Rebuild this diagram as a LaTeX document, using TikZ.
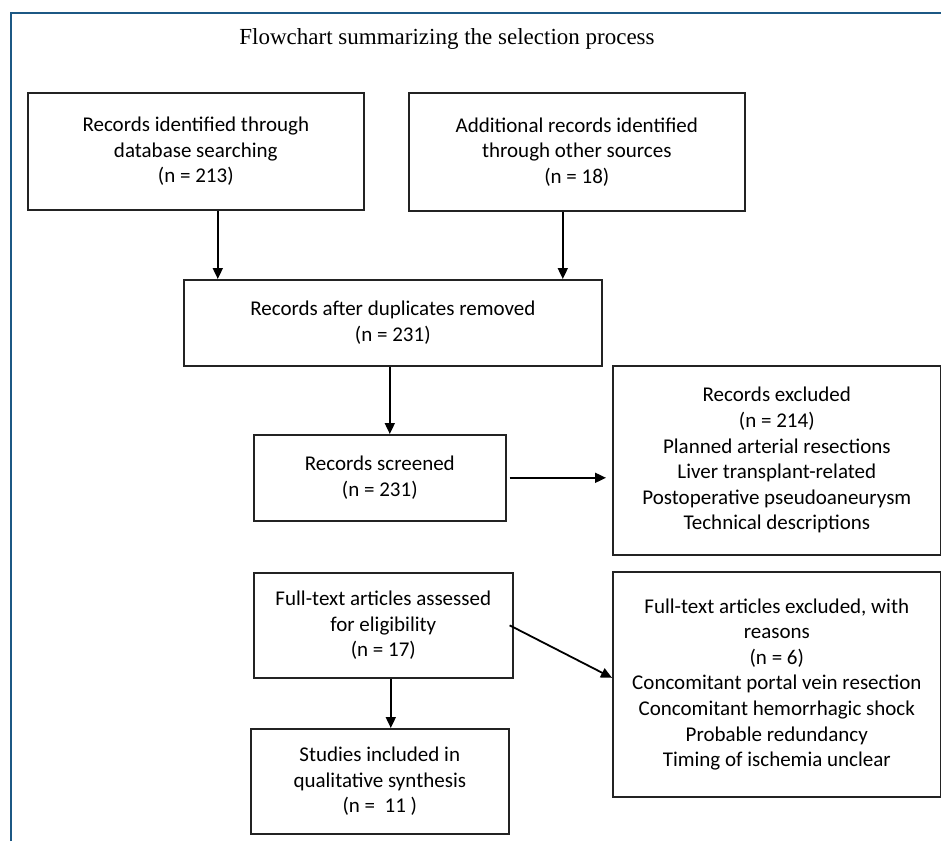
\documentclass[tikz,border=0pt]{standalone}
\usepackage{fontspec}
\setmainfont{Carlito}
\newfontfamily\titlefont{Liberation Serif}
\usetikzlibrary{arrows.meta,calc}
\definecolor{frameblue}{RGB}{28,88,132}
\definecolor{boxline}{RGB}{35,35,35}
\begin{document}
\begin{tikzpicture}[x=1pt,y=1pt,
  flowbox/.style={draw=boxline, line width=1.6pt, align=center, inner sep=0pt,
    anchor=north west, font=\fontsize{21}{25.6}\selectfont},
  arr/.style={line width=1.8pt, draw=black, -{Triangle[length=11pt,width=10pt]}}]
\useasboundingbox (0,0) rectangle (941,-841);
% frame
\draw[frameblue, line width=2.4pt] (11,-841) -- (11,-13) -- (941,-13);
% title
\node[anchor=base, font=\titlefont\fontsize{23}{27}\selectfont] (title) at (447,-44) {Flowchart summarizing the selection process};
% boxes
\node[flowbox, minimum width=336pt, minimum height=117pt] (b1) at (27,-92) {Records identified through\\database searching\\(n = 213)};
\node[flowbox, minimum width=336pt, minimum height=118pt] (b2) at (408,-92) {Additional records identified\\through other sources\\(n = 18)};
\node[flowbox, minimum width=418pt, minimum height=86pt] (b3) at (183,-279) {Records after duplicates removed\\(n = 231)};
\node[flowbox, minimum width=328pt, minimum height=189pt] (b4) at (612,-365) {Records excluded\\(n = 214)\\Planned arterial resections\\Liver transplant-related\\Postoperative pseudoaneurysm\\Technical descriptions};
\node[flowbox, minimum width=252pt, minimum height=86pt] (b5) at (253,-434) {Records screened\\(n = 231)};
\node[flowbox, minimum width=328pt, minimum height=225pt] (b6) at (612,-571) {Full-text articles excluded, with\\reasons\\(n = 6)\\Concomitant portal vein resection\\Concomitant hemorrhagic shock\\Probable redundancy\\Timing of ischemia unclear};
\node[flowbox, minimum width=259pt, minimum height=105pt] (b7) at (253,-572) {Full-text articles assessed\\for eligibility\\(n = 17)};
\node[flowbox, minimum width=258pt, minimum height=105pt] (b8) at (250,-728) {Studies included in\\qualitative synthesis\\(n =~~11 )};
% connectors
\draw[arr] ([xshift=22pt]b1.south) -- ([xshift=22pt]b1.south |- b3.north);
\draw[arr] ([xshift=-14pt]b2.south) -- ([xshift=-14pt]b2.south |- b3.north);
\draw[arr] ([xshift=-3pt]b3.south) -- ([xshift=-3pt]b3.south |- b5.north);
\draw[arr, shorten <=3pt, shorten >=6pt] (b5.east) -- (b5.east -| b4.west);
\draw[arr] ([xshift=-4pt]b7.east) -- ([yshift=6.5pt]b6.west);
\draw[arr] ([xshift=7.5pt]b7.south) -- ([xshift=7.5pt]b7.south |- b8.north);
\end{tikzpicture}
\end{document}
